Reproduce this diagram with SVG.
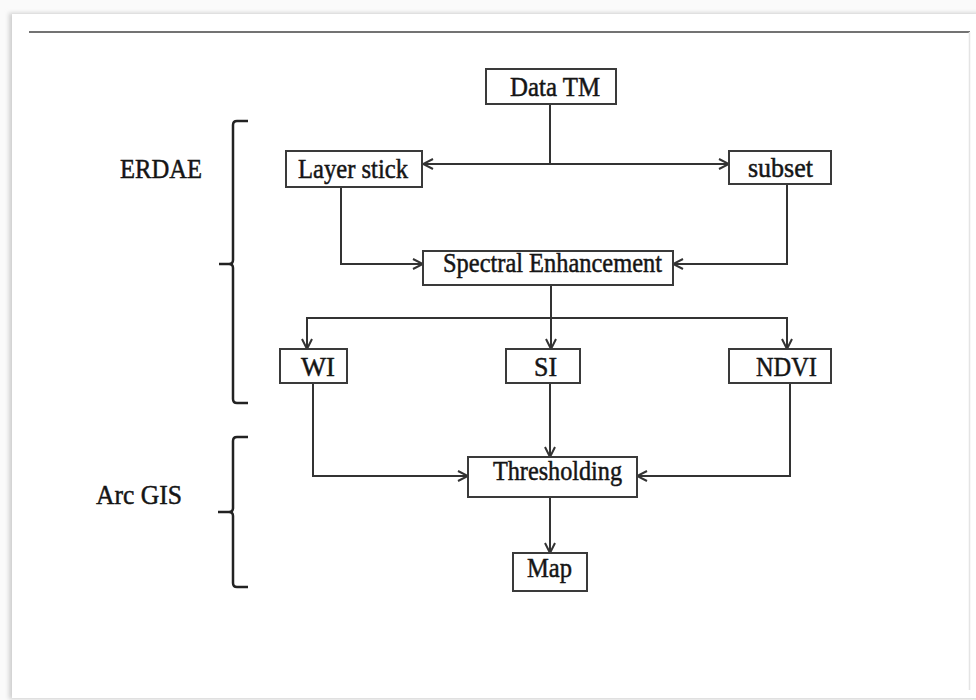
<svg xmlns="http://www.w3.org/2000/svg" width="976" height="700" viewBox="0 0 976 700">
<defs>
<marker id="arr" viewBox="0 0 12 12" refX="11" refY="6" markerWidth="12" markerHeight="12" markerUnits="userSpaceOnUse" orient="auto">
<path d="M1,1 L11,6 L1,11" fill="none" stroke="#333" stroke-width="2"/>
</marker>
<marker id="arrS" viewBox="0 0 12 12" refX="1" refY="6" markerWidth="12" markerHeight="12" markerUnits="userSpaceOnUse" orient="auto">
<path d="M11,1 L1,6 L11,11" fill="none" stroke="#333" stroke-width="2"/>
</marker>
<filter id="sh" x="-5%" y="-5%" width="110%" height="110%">
<feGaussianBlur stdDeviation="2"/>
</filter>
</defs>
<style>
.box{fill:#fff;stroke:#3a3a3a;stroke-width:2}
.t{font-family:"Liberation Serif","Times New Roman",serif;font-size:28px;fill:#151515;stroke:#151515;stroke-width:0.5;text-anchor:start}
.c{fill:none;stroke:#333;stroke-width:2}
.br{fill:none;stroke:#222;stroke-width:2.5}
</style>
<rect x="0" y="0" width="976" height="700" fill="#fafafa"/>
<rect x="9" y="13" width="970" height="686" fill="#cfcfcf" filter="url(#sh)"/>
<rect x="12" y="14" width="964" height="684" fill="#fff"/>
<line x1="29" y1="32" x2="970" y2="32" stroke="#444" stroke-width="1.5"/>
<line x1="969.5" y1="32" x2="969.5" y2="690" stroke="#e4e4e4" stroke-width="1.5"/>

<g id="erdae-bracket">
<path class="br" d="M248,121 L237,121 Q233,121 233,125 L233,260 Q233,264 229,264 L219,264 M229,264 Q233,264 233,268 L233,399 Q233,403 237,403 L248,403"/>
<text class="t" x="120" y="178" textLength="82" lengthAdjust="spacingAndGlyphs">ERDAE</text>
</g>
<g id="arcgis-bracket">
<path class="br" d="M248,437 L237,437 Q233,437 233,441 L233,508 Q233,512 229,512 L218,512 M229,512 Q233,512 233,516 L233,583 Q233,587 237,587 L248,587"/>
<text class="t" x="96" y="504" textLength="86" lengthAdjust="spacingAndGlyphs">Arc GIS</text>
</g>

<g id="connectors">
<path class="c" d="M550,104 L550,164" stroke-width="2.5"/>
<path class="c" d="M423,164 L729,164" stroke-width="2.5" marker-start="url(#arrS)" marker-end="url(#arr)"/>
<path class="c" d="M341,187 L341,264 L423,264" marker-end="url(#arr)"/>
<path class="c" d="M787,184 L787,264 L673,264" marker-end="url(#arr)"/>
<path class="c" d="M551,285 L551,349" marker-end="url(#arr)"/>
<path class="c" d="M307,349 L307,318 L787,318 L787,349" stroke-width="2.5" marker-start="url(#arrS)" marker-end="url(#arr)"/>
<path class="c" d="M313,383 L313,476 L468,476" marker-end="url(#arr)"/>
<path class="c" d="M550,383 L550,457" marker-end="url(#arr)"/>
<path class="c" d="M790,383 L790,476 L637,476" marker-end="url(#arr)"/>
<path class="c" d="M550,497 L550,553" marker-end="url(#arr)"/>
</g>

<g id="data-tm">
<rect class="box" x="486" y="69" width="130" height="35"/>
<text class="t" x="510" y="96" textLength="90" lengthAdjust="spacingAndGlyphs">Data TM</text>
</g>
<g id="layer-stick">
<rect class="box" x="286" y="151" width="136" height="36"/>
<text class="t" x="298" y="178" textLength="110" lengthAdjust="spacingAndGlyphs">Layer stick</text>
</g>
<g id="subset">
<rect class="box" x="729" y="151" width="102" height="33"/>
<text class="t" x="748" y="177" textLength="65" lengthAdjust="spacingAndGlyphs">subset</text>
</g>
<g id="spectral">
<rect class="box" x="423" y="251" width="250" height="34"/>
<text class="t" x="443" y="272" textLength="219" lengthAdjust="spacingAndGlyphs">Spectral Enhancement</text>
</g>
<g id="wi">
<rect class="box" x="280" y="349" width="67" height="34"/>
<text class="t" x="301" y="376" textLength="34" lengthAdjust="spacingAndGlyphs">WI</text>
</g>
<g id="si">
<rect class="box" x="506" y="349" width="74" height="34"/>
<text class="t" x="534" y="376" textLength="23" lengthAdjust="spacingAndGlyphs">SI</text>
</g>
<g id="ndvi">
<rect class="box" x="729" y="349" width="102" height="34"/>
<text class="t" x="756" y="376" textLength="61" lengthAdjust="spacingAndGlyphs">NDVI</text>
</g>
<g id="thresholding">
<rect class="box" x="468" y="457" width="169" height="40"/>
<text class="t" x="493" y="480" textLength="129" lengthAdjust="spacingAndGlyphs">Thresholding</text>
</g>
<g id="map">
<rect class="box" x="513" y="553" width="74" height="38"/>
<text class="t" x="527" y="577" textLength="45" lengthAdjust="spacingAndGlyphs">Map</text>
</g>
</svg>
